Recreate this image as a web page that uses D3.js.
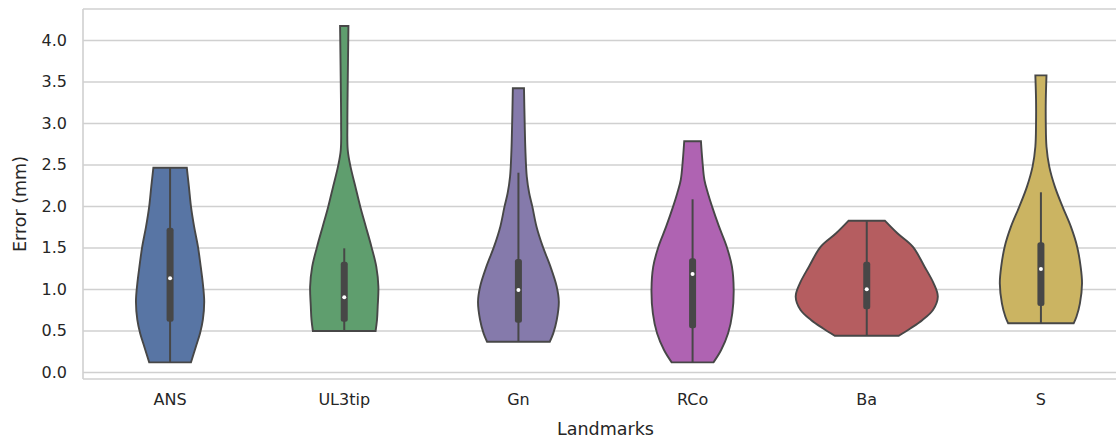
<!DOCTYPE html>
<html>
<head>
<meta charset="utf-8">
<script src="https://cdn.jsdelivr.net/npm/d3@7"></script>
<style>
  body { margin: 0; background: #fff; }
  svg { display: block; }
</style>
</head>
<body>
<svg id="chart" width="1116" height="440"></svg>
<script>
// landmarks and their violin colours
var categories = ["ANS", "UL3tip", "Gn", "RCo", "Ba", "S"];
var colors = ["#5875a4", "#5f9e6e", "#857aab", "#af63b2", "#b55d60", "#cbb462"];

// density outline: error values (mm) and relative half widths
var densityValues = [
  [2.461, 2.233, 1.992, 1.751, 1.510, 1.269, 1.068, 0.847, 0.627, 0.466, 0.305, 0.116],
  [4.169, 3.478, 2.996, 2.675, 2.474, 2.233, 1.992, 1.751, 1.510, 1.269, 1.028, 0.787, 0.627, 0.494],
  [3.418, 2.996, 2.675, 2.353, 2.153, 1.992, 1.751, 1.510, 1.269, 1.028, 0.847, 0.627, 0.466, 0.365],
  [2.780, 2.554, 2.313, 2.153, 1.992, 1.751, 1.510, 1.269, 0.988, 0.707, 0.466, 0.265, 0.116],
  [1.823, 1.671, 1.510, 1.269, 1.068, 0.908, 0.747, 0.627, 0.527, 0.437],
  [3.574, 3.277, 2.996, 2.714, 2.474, 2.233, 1.992, 1.751, 1.510, 1.269, 1.068, 0.827, 0.666, 0.587]
];
var densityWidths = [
  [0.24, 0.27, 0.30, 0.345, 0.40, 0.44, 0.47, 0.49, 0.47, 0.43, 0.37, 0.30],
  [0.06, 0.05, 0.045, 0.05, 0.09, 0.16, 0.23, 0.31, 0.39, 0.46, 0.49, 0.48, 0.47, 0.45],
  [0.08, 0.09, 0.10, 0.12, 0.155, 0.20, 0.26, 0.35, 0.46, 0.55, 0.58, 0.55, 0.50, 0.45],
  [0.12, 0.14, 0.17, 0.22, 0.28, 0.38, 0.49, 0.565, 0.59, 0.57, 0.51, 0.41, 0.30],
  [0.26, 0.44, 0.66, 0.83, 0.96, 1.02, 0.95, 0.80, 0.63, 0.46],
  [0.08, 0.07, 0.07, 0.08, 0.12, 0.20, 0.31, 0.43, 0.52, 0.57, 0.59, 0.56, 0.51, 0.47]
];

// inner box plot
var q1 = [0.606, 0.606, 0.594, 0.527, 0.755, 0.795];
var medians = [1.129, 0.900, 0.988, 1.181, 0.996, 1.241];
var q3 = [1.739, 1.329, 1.361, 1.370, 1.329, 1.563];
var whiskerLow = [0.116, 0.494, 0.365, 0.116, 0.437, 0.587];
var whiskerHigh = [2.461, 1.490, 2.401, 2.081, 1.823, 2.165];

var yTicks = [0, 0.5, 1, 1.5, 2, 2.5, 3, 3.5, 4];

var margin = {left: 83, top: 9, right: -12, bottom: 61};
var width = 1116 - margin.left - margin.right;
var height = 440 - margin.top - margin.bottom;
var lineColor = "#474747";
var gridColor = "#d0d0d0";
var textColor = "#262626";
var font = "DejaVu Sans, sans-serif";

var svg = d3.select("#chart");
var g = svg.append("g").attr("transform", "translate(" + margin.left + "," + margin.top + ")");

var x = d3.scaleBand().domain(categories).range([0, width]).padding(0);
var y = d3.scaleLinear().domain([-0.084, 4.373]).range([height, 0]);
var w = d3.scaleLinear().domain([0, 1]).range([0, x.bandwidth() * 0.4]);

// grid + y axis
var yAxis = g.append("g")
    .call(d3.axisLeft(y).tickValues(yTicks).tickFormat(d3.format(".1f"))
        .tickSize(-width).tickPadding(16))
    .attr("font-family", font).attr("font-size", 16);
yAxis.select(".domain").remove();
yAxis.selectAll(".tick line").attr("stroke", gridColor).attr("stroke-width", 1.6);
yAxis.selectAll(".tick text").attr("fill", textColor);

// spines
g.append("line").attr("x1", 0).attr("x2", 0).attr("y1", 0).attr("y2", height)
    .attr("stroke", gridColor).attr("stroke-width", 1.6);
g.append("line").attr("x1", 0).attr("x2", width).attr("y1", 0).attr("y2", 0)
    .attr("stroke", gridColor).attr("stroke-width", 1.6);
g.append("line").attr("x1", 0).attr("x2", width).attr("y1", height).attr("y2", height)
    .attr("stroke", gridColor).attr("stroke-width", 1.6);

// x axis labels
var xAxis = g.append("g").attr("transform", "translate(0," + height + ")")
    .call(d3.axisBottom(x).tickSize(0).tickPadding(15))
    .attr("font-family", font).attr("font-size", 16);
xAxis.select(".domain").remove();
xAxis.selectAll(".tick text").attr("fill", textColor);

// violins
categories.forEach(function (cat, i) {
    var cx = x(cat) + x.bandwidth() / 2;
    var pts = densityValues[i].map(function (v, j) { return {v: v, d: densityWidths[i][j]}; });

    var area = d3.area()
        .y(function (d) { return y(d.v); })
        .x0(function (d) { return cx - w(d.d); })
        .x1(function (d) { return cx + w(d.d); })
        .curve(d3.curveCatmullRom.alpha(0.5));

    g.append("path")
        .datum(pts)
        .attr("d", area)
        .attr("fill", colors[i])
        .attr("stroke", lineColor)
        .attr("stroke-width", 1.9);

    // whisker
    g.append("line")
        .attr("x1", cx).attr("x2", cx)
        .attr("y1", y(whiskerLow[i])).attr("y2", y(whiskerHigh[i]))
        .attr("stroke", lineColor).attr("stroke-width", 2);

    // box
    g.append("rect")
        .attr("x", cx - 3.5).attr("width", 7)
        .attr("y", y(q3[i])).attr("height", y(q1[i]) - y(q3[i]))
        .attr("rx", 2.5)
        .attr("fill", lineColor);

    // median
    g.append("circle")
        .attr("cx", cx).attr("cy", y(medians[i]))
        .attr("r", 2)
        .attr("fill", "#fff");
});

// axis titles
svg.append("text")
    .attr("x", margin.left + width / 2).attr("y", 435)
    .attr("text-anchor", "middle")
    .attr("fill", textColor).attr("font-family", font).attr("font-size", 17.5)
    .text("Landmarks");

svg.append("text")
    .attr("transform", "translate(26,204) rotate(-90)")
    .attr("text-anchor", "middle")
    .attr("fill", textColor).attr("font-family", font).attr("font-size", 17.5)
    .text("Error (mm)");
</script>
</body>
</html>
